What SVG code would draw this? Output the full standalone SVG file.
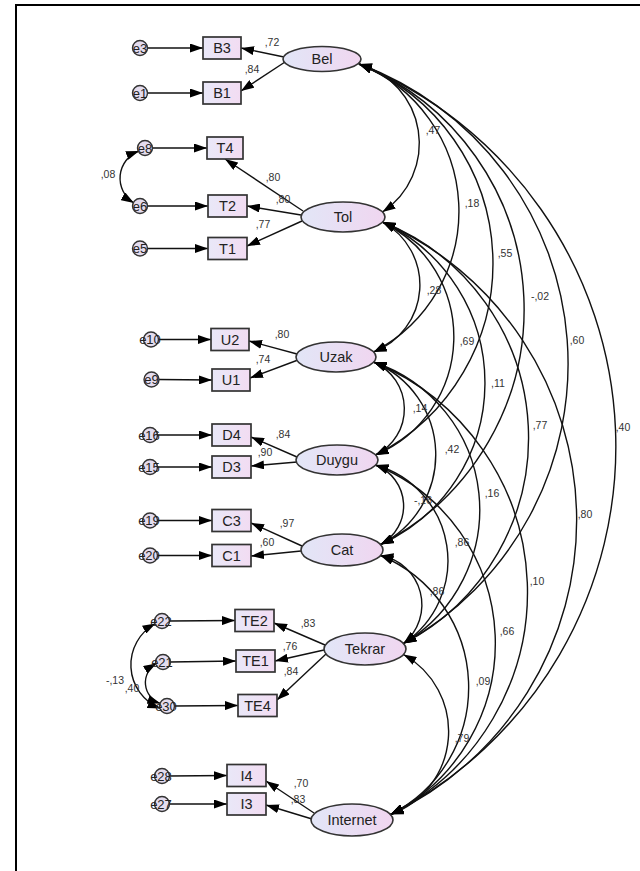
<svg xmlns="http://www.w3.org/2000/svg" width="640" height="871" viewBox="0 0 640 871">
<defs>
<linearGradient id="gBox" x1="0" y1="0" x2="1" y2="0">
<stop offset="0" stop-color="#e9e8f8"/><stop offset="1" stop-color="#f2dcf2"/>
</linearGradient>
<linearGradient id="gEll" x1="0" y1="0" x2="1" y2="0">
<stop offset="0" stop-color="#e2e6f7"/><stop offset="1" stop-color="#f0d6f0"/>
</linearGradient>
<marker id="ah" viewBox="0 0 13 9" refX="13" refY="4.5" markerWidth="13" markerHeight="9" markerUnits="userSpaceOnUse" orient="auto-start-reverse">
<path d="M0,0 L13,4.5 L0,9 z" fill="#000"/>
</marker>
</defs>
<style>
.box{fill:url(#gBox);stroke:#333;stroke-width:1.7}
.ell{fill:url(#gEll);stroke:#333;stroke-width:1.6}
.err{fill:#e4dcee;stroke:#333;stroke-width:1.4}
.nt{font-family:"Liberation Sans",Arial,sans-serif;font-size:14.5px;fill:#222;text-anchor:middle}
.et{font-family:"Liberation Sans",Arial,sans-serif;font-size:13px;fill:#222;text-anchor:middle}
.lb{font-family:"Liberation Sans",Arial,sans-serif;font-size:10.5px;fill:#333;text-anchor:middle}
.c1{fill:none;stroke:#111;stroke-width:1.4;marker-end:url(#ah)}
.c2{fill:none;stroke:#111;stroke-width:1.4;marker-start:url(#ah);marker-end:url(#ah)}
.frame{fill:none;stroke:#000;stroke-width:2}
</style>
<rect width="640" height="871" fill="#fff"/>
<path class="frame" d="M16,871 L16,5 L640,5"/>

<g id="connectors">
<path class="c1" d="M147,48 L203,48"/>
<path class="c1" d="M147,93 L203,93"/>
<path class="c1" d="M152,148 L207,148"/>
<path class="c1" d="M147,206 L208,206"/>
<path class="c1" d="M147,248.5 L208,248.5"/>
<path class="c1" d="M158,339.5 L211,339.5"/>
<path class="c1" d="M158.5,379.5 L212,380"/>
<path class="c1" d="M157,435 L212,435"/>
<path class="c1" d="M157,467 L212,467"/>
<path class="c1" d="M157,520.5 L212,520.5"/>
<path class="c1" d="M157,555.5 L212,555.5"/>
<path class="c1" d="M169,621 L235,620.5"/>
<path class="c1" d="M170,662 L236,661"/>
<path class="c1" d="M174,706 L238,705.5"/>
<path class="c1" d="M169,776 L227,775.5"/>
<path class="c1" d="M169,804 L227,804"/>
<path class="c1" d="M284,57 L241,48"/>
<path class="c1" d="M285,62 L241,91"/>
<path class="c1" d="M303,211 L225,159"/>
<path class="c1" d="M301,215 L247,206"/>
<path class="c1" d="M302,221 L247,246"/>
<path class="c1" d="M297,354 L249,341"/>
<path class="c1" d="M298,360 L250,378"/>
<path class="c1" d="M297,457 L251,437"/>
<path class="c1" d="M297,462 L251,466"/>
<path class="c1" d="M302,546 L251,523"/>
<path class="c1" d="M301,551 L251,556"/>
<path class="c1" d="M325,645 L274,623"/>
<path class="c1" d="M324,650 L275,661"/>
<path class="c1" d="M326,654 L277,700"/>
<path class="c1" d="M314,813 L266,781"/>
<path class="c1" d="M312,819 L266,805"/>
<path class="c2" d="M139,151 A29,29 0 0 0 134,203"/>
<path class="c2" d="M155.5,623.5 A47,47 0 0 0 160.5,708.5"/>
<path class="c2" d="M156.5,663.5 A22,22 0 0 0 160.5,703.5"/>
<path class="c2" d="M359,64 A82.4,82.4 0 0 1 382.5,212"/>
<path class="c2" d="M359,64 A158.6,158.6 0 0 1 373.6,352"/>
<path class="c2" d="M359,64 A215.2,215.2 0 0 1 375.5,455"/>
<path class="c2" d="M359,64 A264.6,264.6 0 0 1 380.5,544.5"/>
<path class="c2" d="M359,64 A319.7,319.7 0 0 1 403.5,643.5"/>
<path class="c2" d="M359,64 A413.2,413.2 0 0 1 390.5,814.5"/>
<path class="c2" d="M382.5,222 A71.7,71.7 0 0 1 373.6,352"/>
<path class="c2" d="M382.5,222 A128.2,128.2 0 0 1 375.5,455"/>
<path class="c2" d="M382.5,222 A177.4,177.4 0 0 1 380.5,544.5"/>
<path class="c2" d="M382.5,222 A232.1,232.1 0 0 1 403.5,643.5"/>
<path class="c2" d="M382.5,222 A325.9,325.9 0 0 1 390.5,814.5"/>
<path class="c2" d="M373.6,362 A51.2,51.2 0 0 1 375.5,455"/>
<path class="c2" d="M373.6,362 A100.4,100.4 0 0 1 380.5,544.5"/>
<path class="c2" d="M373.6,362 A155.7,155.7 0 0 1 403.5,643.5"/>
<path class="c2" d="M373.6,362 A249,249 0 0 1 390.5,814.5"/>
<path class="c2" d="M375.5,465 A43.8,43.8 0 0 1 380.5,544.5"/>
<path class="c2" d="M375.5,465 A99.4,99.4 0 0 1 403.5,643.5"/>
<path class="c2" d="M375.5,465 A192.4,192.4 0 0 1 390.5,814.5"/>
<path class="c2" d="M380.5,555.5 A50,50 0 0 1 403.5,643.5"/>
<path class="c2" d="M380.5,555.5 A142.6,142.6 0 0 1 390.5,814.5"/>
<path class="c2" d="M403.5,654.5 A88.3,88.3 0 0 1 390.5,814.5"/>
<text class="lb" x="272" y="46">,72</text>
<text class="lb" x="252" y="73">,84</text>
<text class="lb" x="273" y="181">,80</text>
<text class="lb" x="283" y="203">,80</text>
<text class="lb" x="263" y="228">,77</text>
<text class="lb" x="282" y="338">,80</text>
<text class="lb" x="263" y="363">,74</text>
<text class="lb" x="283" y="438">,84</text>
<text class="lb" x="265" y="456">,90</text>
<text class="lb" x="287" y="527">,97</text>
<text class="lb" x="267" y="546">,60</text>
<text class="lb" x="308" y="627">,83</text>
<text class="lb" x="290" y="650">,76</text>
<text class="lb" x="291" y="675">,84</text>
<text class="lb" x="301" y="787">,70</text>
<text class="lb" x="298" y="803">,83</text>
<text class="lb" x="108" y="178">,08</text>
<text class="lb" x="115" y="684">-,13</text>
<text class="lb" x="132" y="692">,40</text>
<text class="lb" x="433" y="134">,47</text>
<text class="lb" x="472" y="207">,18</text>
<text class="lb" x="505" y="257">,55</text>
<text class="lb" x="540" y="300">-,02</text>
<text class="lb" x="577" y="344">,60</text>
<text class="lb" x="623" y="431">,40</text>
<text class="lb" x="434" y="294">,28</text>
<text class="lb" x="467" y="345">,69</text>
<text class="lb" x="498" y="387">,11</text>
<text class="lb" x="540" y="429">,77</text>
<text class="lb" x="585" y="518">,80</text>
<text class="lb" x="420" y="412">,14</text>
<text class="lb" x="452" y="453">,42</text>
<text class="lb" x="492" y="497">,16</text>
<text class="lb" x="537" y="585">,10</text>
<text class="lb" x="423" y="504">-,16</text>
<text class="lb" x="462" y="546">,86</text>
<text class="lb" x="507" y="635">,66</text>
<text class="lb" x="437" y="595">,86</text>
<text class="lb" x="483" y="685">,09</text>
<text class="lb" x="462" y="742">,79</text>
</g>

<g id="Bel"><ellipse class="ell" cx="322" cy="59" rx="39" ry="12.5"/><text class="nt" x="322" y="64">Bel</text></g>
<g id="Tol"><ellipse class="ell" cx="343" cy="217" rx="42" ry="15"/><text class="nt" x="343" y="222">Tol</text></g>
<g id="Uzak"><ellipse class="ell" cx="336" cy="357" rx="40" ry="15"/><text class="nt" x="336" y="362">Uzak</text></g>
<g id="Duygu"><ellipse class="ell" cx="337" cy="460" rx="41" ry="15"/><text class="nt" x="337" y="465">Duygu</text></g>
<g id="Cat"><ellipse class="ell" cx="342" cy="550" rx="41" ry="16"/><text class="nt" x="342" y="555">Cat</text></g>
<g id="Tekrar"><ellipse class="ell" cx="365" cy="649" rx="41" ry="16"/><text class="nt" x="365" y="654">Tekrar</text></g>
<g id="Internet"><ellipse class="ell" cx="352" cy="820" rx="41" ry="16"/><text class="nt" x="352" y="825">Internet</text></g>

<g id="B3"><rect class="box" x="203" y="37" width="38" height="22"/><text class="nt" x="222" y="53">B3</text></g>
<g id="B1"><rect class="box" x="203" y="82" width="38" height="22"/><text class="nt" x="222" y="98">B1</text></g>
<g id="T4"><rect class="box" x="207" y="137" width="36" height="22"/><text class="nt" x="225" y="153">T4</text></g>
<g id="T2"><rect class="box" x="208" y="195" width="39" height="22"/><text class="nt" x="227.5" y="211">T2</text></g>
<g id="T1"><rect class="box" x="208" y="237.5" width="39" height="22"/><text class="nt" x="227.5" y="253.5">T1</text></g>
<g id="U2"><rect class="box" x="211" y="328.5" width="38" height="22"/><text class="nt" x="230" y="344.5">U2</text></g>
<g id="U1"><rect class="box" x="212" y="369" width="38" height="22"/><text class="nt" x="231" y="385">U1</text></g>
<g id="D4"><rect class="box" x="212" y="424" width="39" height="22"/><text class="nt" x="231.5" y="440">D4</text></g>
<g id="D3"><rect class="box" x="212" y="456" width="39" height="22"/><text class="nt" x="231.5" y="472">D3</text></g>
<g id="C3"><rect class="box" x="212" y="509.5" width="39" height="22"/><text class="nt" x="231.5" y="525.5">C3</text></g>
<g id="C1"><rect class="box" x="212" y="544.5" width="39" height="22"/><text class="nt" x="231.5" y="560.5">C1</text></g>
<g id="TE2"><rect class="box" x="235" y="609.5" width="39" height="22"/><text class="nt" x="254.5" y="625.5">TE2</text></g>
<g id="TE1"><rect class="box" x="236" y="650" width="39" height="22"/><text class="nt" x="255.5" y="666">TE1</text></g>
<g id="TE4"><rect class="box" x="238" y="694.5" width="39" height="22"/><text class="nt" x="257.5" y="710.5">TE4</text></g>
<g id="I4"><rect class="box" x="227" y="764.5" width="39" height="22"/><text class="nt" x="246.5" y="780.5">I4</text></g>
<g id="I3"><rect class="box" x="227" y="793" width="39" height="22"/><text class="nt" x="246.5" y="809">I3</text></g>

<g id="e3"><circle class="err" cx="140" cy="48" r="7.5"/><text class="et" x="140" y="52.5">e3</text></g>
<g id="e1"><circle class="err" cx="140" cy="93" r="7.5"/><text class="et" x="140" y="97.5">e1</text></g>
<g id="e8"><circle class="err" cx="145" cy="148" r="7.5"/><text class="et" x="145" y="152.5">e8</text></g>
<g id="e6"><circle class="err" cx="140" cy="206" r="7.5"/><text class="et" x="140" y="210.5">e6</text></g>
<g id="e5"><circle class="err" cx="140" cy="248.5" r="7.5"/><text class="et" x="140" y="253">e5</text></g>
<g id="e10"><circle class="err" cx="151" cy="339.5" r="7.5"/><text class="et" x="150" y="344">e10</text></g>
<g id="e9"><circle class="err" cx="151.5" cy="379.5" r="7.5"/><text class="et" x="151.5" y="384">e9</text></g>
<g id="e16"><circle class="err" cx="150" cy="435" r="7.5"/><text class="et" x="149" y="439.5">e16</text></g>
<g id="e15"><circle class="err" cx="150" cy="467" r="7.5"/><text class="et" x="149" y="471.5">e15</text></g>
<g id="e19"><circle class="err" cx="150" cy="520.5" r="7.5"/><text class="et" x="149" y="525">e19</text></g>
<g id="e20"><circle class="err" cx="150" cy="555.5" r="7.5"/><text class="et" x="149" y="560">e20</text></g>
<g id="e22"><circle class="err" cx="162" cy="621" r="7.5"/><text class="et" x="161" y="625.5">e22</text></g>
<g id="e21"><circle class="err" cx="163" cy="662" r="7.5"/><text class="et" x="162" y="666.5">e21</text></g>
<g id="e30"><circle class="err" cx="167" cy="706" r="7.5"/><text class="et" x="166" y="710.5">e30</text></g>
<g id="e28"><circle class="err" cx="162" cy="776" r="7.5"/><text class="et" x="161" y="780.5">e28</text></g>
<g id="e27"><circle class="err" cx="162" cy="804" r="7.5"/><text class="et" x="161" y="808.5">e27</text></g>
</svg>
